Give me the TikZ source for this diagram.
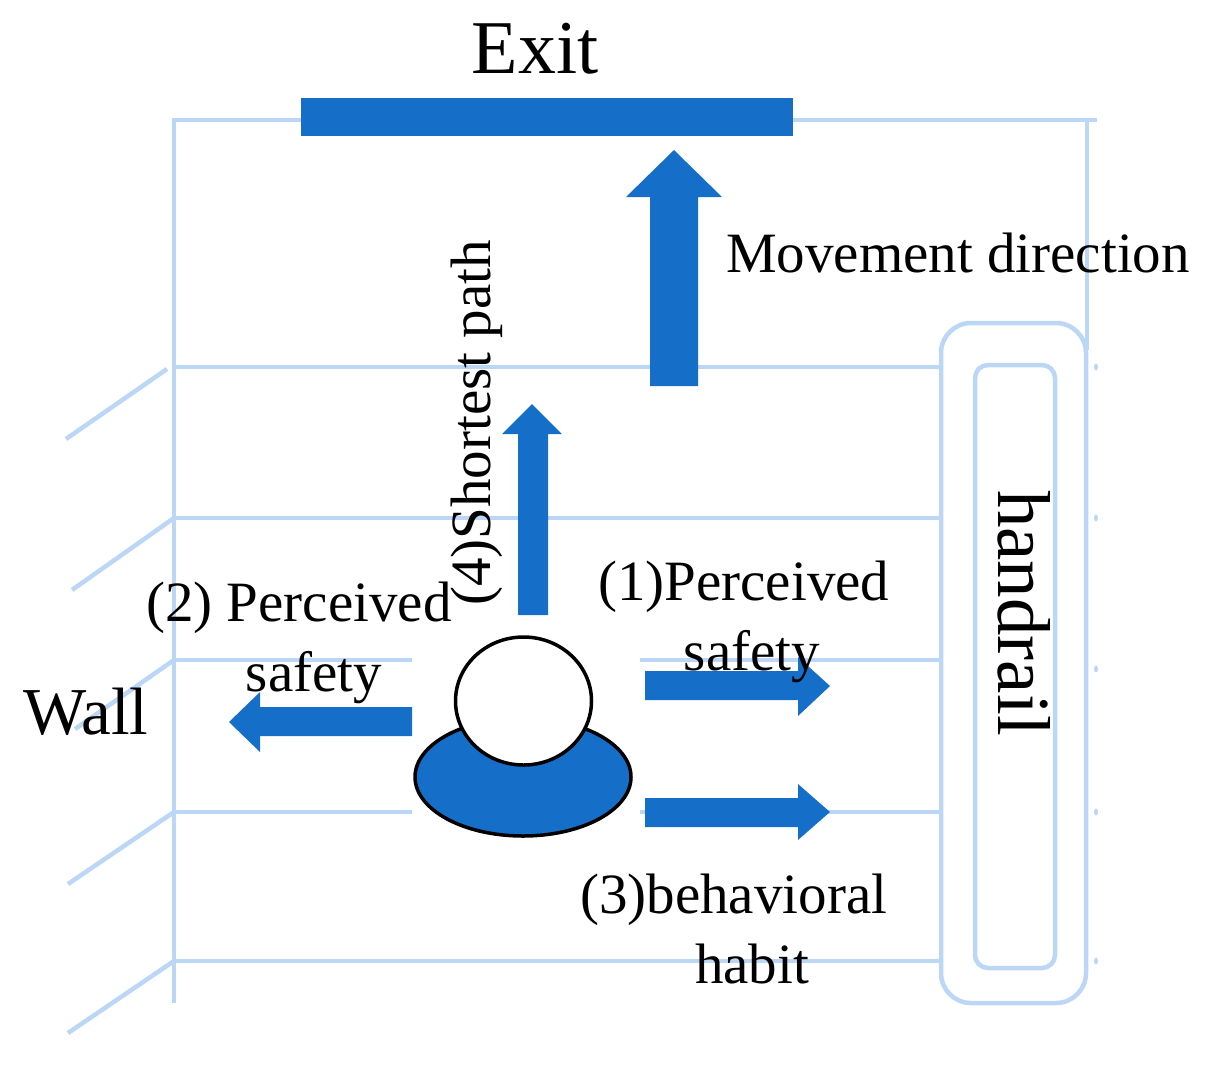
\documentclass[tikz,border=0pt]{standalone}
\usepackage{fontspec}
\setmainfont{Liberation Serif}
\definecolor{lineblue}{RGB}{188,214,245}
\definecolor{solidblue}{RGB}{21,110,200}
\tikzset{
  px/.style={x=1pt,y=-1pt},
  wallline/.style={draw=lineblue,line width=4.5pt},
  railbox/.style={draw=lineblue,line width=4.5pt,rounded corners=30pt},
  lab/.style={font=\fontsize{57}{60}\selectfont,text=black,inner sep=0pt,align=center},
  bigarrow/.style={fill=solidblue,draw=none},
}
\begin{document}
\begin{tikzpicture}[px]
\useasboundingbox (0,0) rectangle (1206,1069);
% frame
\draw[wallline] (174,1003) -- (174,120) -- (1097,120);
\draw[wallline] (1087,120) -- (1087,350);
\foreach \y in {367,518,660,812,961}{
  \draw[wallline] (174,\y) -- (940,\y);
}
\draw[wallline] (167,369) -- (66,439);
\draw[wallline] (174,518) -- (72,590);
\draw[wallline] (174,660) -- (75,729);
\draw[wallline] (174,812) -- (68,884);
\draw[wallline] (174,961) -- (68,1033);
% gap around person
\fill[white] (412,640) rectangle (640,840);
% handrail
\draw[railbox,fill=white] (941,323) rectangle (1086,1003);
\draw[railbox,rounded corners=13pt] (975,365) rectangle (1055,968);
\foreach \y in {367,518,669,812,961}{\fill[lineblue] (1096,\y) ellipse [x radius=2,y radius=3.5];}
% exit bar
\fill[solidblue] (301,98) rectangle (793,136);
% arrows
\fill[bigarrow] (650,386) -- (650,197) -- (626,197) -- (674,150) -- (722,197) -- (698,197) -- (698,386) -- cycle;
\fill[bigarrow] (518,615) -- (518,434) -- (502,434) -- (532,404) -- (562,434) -- (548,434) -- (548,615) -- cycle;
\fill[bigarrow] (645,671) -- (798,671) -- (798,657) -- (830,686) -- (798,716) -- (798,700) -- (645,700) -- cycle;
\fill[bigarrow] (645,798) -- (798,798) -- (798,784) -- (830,812) -- (798,840) -- (798,827) -- (645,827) -- cycle;
\fill[bigarrow] (412,707) -- (260,707) -- (260,692) -- (229,722) -- (260,752) -- (260,736) -- (412,736) -- cycle;
% person
\draw[black,line width=3.5pt,fill=solidblue] (523,777) ellipse [x radius=108,y radius=59];
\draw[black,line width=3.5pt,fill=white] (523.5,701) ellipse [x radius=68,y radius=64];
% labels
\node[lab,font=\fontsize{76}{80}\selectfont] (exit) at (535,49) {Exit};
\node[lab] (move) at (958,253) {Movement direction};
\node[lab,rotate=90] (short) at (477,423) {(4)Shortest path};
\node[lab,anchor=west] (p1) at (598,587) {(1)Perceived};
\node[lab] (p1b) at (752,657) {safety};
\node[lab,anchor=west] (p2) at (146,608) {(2) Perceived};
\node[lab] (p2b) at (314,678) {safety};
\node[lab,font=\fontsize{67}{70}\selectfont] (wall) at (86,712) {Wall};
\node[lab,anchor=west] (p3) at (580,900) {(3)behavioral};
\node[lab] (p3b) at (752,964) {habit};
\node[lab,rotate=-90,font=\fontsize{75}{78}\selectfont] (rail) at (1024,613) {handrail};
\end{tikzpicture}
\end{document}
